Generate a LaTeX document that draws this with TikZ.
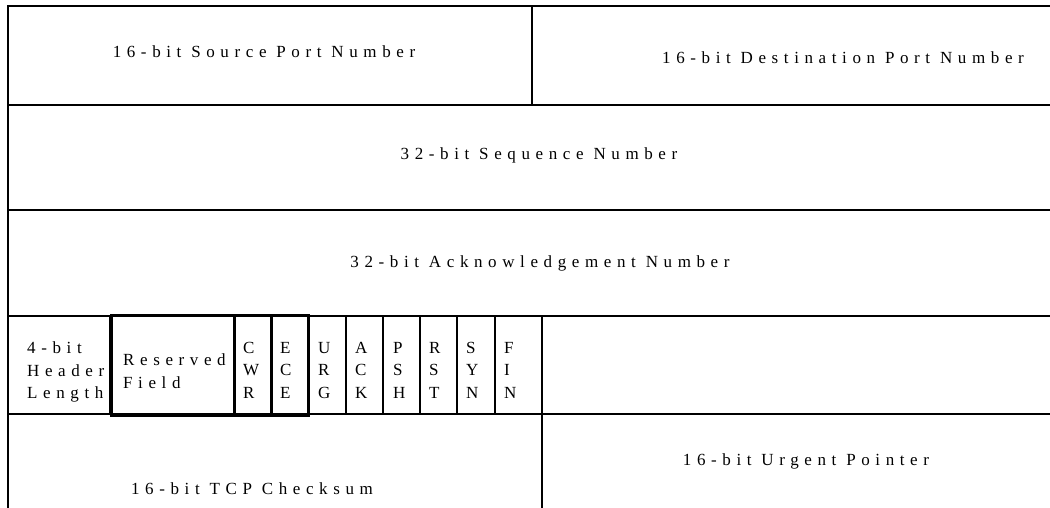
\documentclass[tikz,border=0pt]{standalone}
\usepackage{fontspec}
\newfontfamily\hdrfont[LetterSpace=33]{Liberation Serif}
\usetikzlibrary{positioning}

\begin{document}
\begin{tikzpicture}[x=1pt, y=-1pt,
                font=\hdrfont\fontsize{17}{22.5}\selectfont,
                grid/.style={line width=1.1pt},
                thickbox/.style={line width=3pt},
                field/.style={inner sep=0pt},
                flag/.style={inner sep=0pt, anchor=north west, align=left}
            ]
            \useasboundingbox (0,0) rectangle (1050,508);
            % outer lines and row separators
            \draw [grid] (1050,6) -- (8,6) -- (8,508);
            \foreach \y in {105,210,316,414}
                \draw [grid] (8,\y) -- (1050,\y);
            \draw [grid] (532,6) -- (532,105);
            \draw [grid] (542,316) -- (542,508);
            % header length and flag cells
            \foreach \x in {110,346,383,420,457,495}
                \draw [grid] (\x,316) -- (\x,414);
            \draw [thickbox] (111,315) rectangle (234,415);
            \draw [thickbox] (234,315) rectangle (271,415);
            \draw [thickbox] (271,315) rectangle (308,415);

            \node (srcport) [field] at (264,52) {16-bit Source Port Number};
            \node (dstport) [field] at (843,58) {16-bit Destination Port Number};
            \node (seqnum) [field] at (539,155) {32-bit Sequence Number};
            \node (acknum) [field] at (540,263) {32-bit Acknowledgement Number};

            \node (hdrlen) [flag] at (27,342) {4-bit\\Header\\Length};
            \node (resv) [flag] at (123,354) {Reserved\\Field};
            \node (cwr) [flag] at (243,342) {C\\W\\R};
            \node (ece) [flag] at (280,342) {E\\C\\E};
            \node (urg) [flag] at (318,342) {U\\R\\G};
            \node (ack) [flag] at (355,342) {A\\C\\K};
            \node (psh) [flag] at (393,342) {P\\S\\H};
            \node (rst) [flag] at (429,342) {R\\S\\T};
            \node (syn) [flag] at (466,342) {S\\Y\\N};
            \node (fin) [flag] at (504,342) {F\\I\\N};

            \node (chksum) [field] at (252,489) {16-bit TCP Checksum};
            \node (urgptr) [field] at (806,461) {16-bit Urgent Pointer};
\end{tikzpicture}
\end{document}
